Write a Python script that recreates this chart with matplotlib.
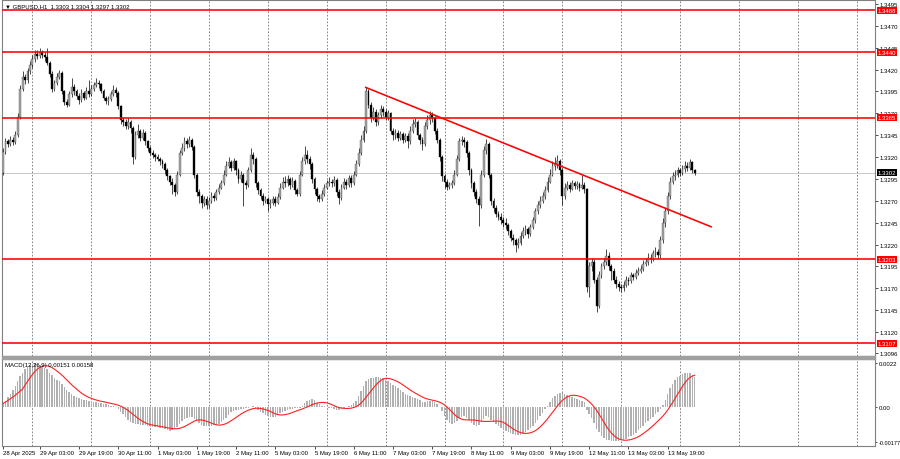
"""
GBPUSD H1 chart with support/resistance levels, trend line and MACD panel,
redrawn in matplotlib in the style of the terminal screenshot.
"""

import numpy as np
import pandas as pd
import matplotlib
matplotlib.use("Agg")
import matplotlib.pyplot as plt
from matplotlib.patches import Rectangle
from matplotlib.transforms import blended_transform_factory

FONT = ["Liberation Sans", "DejaVu Sans"]
plt.rcParams["font.family"] = FONT
FS = 4.3

# ─── Data (prices in pips above 1.3000) ──────────────────────────────────────
TITLE      = "\u25bc GBPUSD,H1  1.3303 1.3304 1.3297 1.3302"
MACD_TITLE = "MACD(12,26,9) 0.00151 0.00158"
FIRST_OPEN = 302

CLOSES = [
    326, 338, 335, 340, 337, 345, 366, 398, 412, 408,
    418, 425, 432, 438, 436, 440, 437, 434, 428, 415,
    398, 405, 412, 416, 395, 383, 380, 392, 400, 395,
    390, 385, 393, 388, 396, 392, 398, 402, 405, 403,
    396, 388, 384, 386, 392, 397, 393, 378, 362, 360,
    355, 360, 353, 320, 345, 350, 342, 348, 338, 330,
    325, 322, 320, 318, 315, 312, 305, 298, 292, 288,
    280, 300, 325, 330, 338, 335, 340, 332, 300, 280,
    275, 268, 272, 265, 270, 276, 273, 280, 285, 290,
    300, 310, 314, 308, 315, 305, 295, 300, 290, 288,
    305, 322, 318, 290, 282, 276, 270, 272, 266, 268,
    272, 268, 274, 285, 292, 290, 295, 288, 293, 282,
    278, 300, 315, 322, 318, 312, 295, 283, 275, 272,
    278, 285, 290, 292, 290, 294, 280, 273, 285, 292,
    288, 296, 290, 300, 312, 325, 340, 350, 395, 380,
    365, 372, 360, 368, 375, 372, 366, 370, 350, 345,
    348, 342, 346, 340, 344, 338, 350, 358, 360, 345,
    340, 335, 355, 362, 368, 365, 350, 340, 320, 298,
    292, 286, 288, 290, 300, 318, 338, 340, 337, 325,
    305, 290, 280, 272, 265, 300, 328, 335, 300, 270,
    262, 255, 252, 248, 245, 242, 235, 228, 225, 220,
    222, 230, 235, 238, 232, 240, 248, 258, 265, 270,
    275, 282, 292, 300, 310, 312, 316, 305, 275, 285,
    288, 284, 290, 287, 289, 285, 288, 283, 172, 195,
    200, 180, 150, 185, 195, 200, 207, 195, 190, 180,
    175, 172, 170, 174, 180, 178, 185, 183, 188, 190,
    192, 198, 200, 205, 203, 210, 212, 208, 225, 245,
    258, 275, 292, 298, 300, 305, 302, 306, 310, 308,
    314, 305, 302,
]

HIGHS = [
    330, 342, 341, 344, 343, 350, 370, 402, 418, 415,
    422, 430, 437, 443, 442, 445, 443, 440, 445, 430,
    418, 408, 416, 420, 418, 397, 386, 396, 410, 403,
    398, 393, 398, 396, 400, 408, 402, 406, 410, 408,
    405, 398, 390, 390, 396, 402, 400, 395, 380, 366,
    363, 365, 362, 356, 350, 358, 352, 352, 350, 340,
    333, 328, 325, 323, 320, 318, 314, 307, 300, 296,
    290, 304, 328, 336, 343, 342, 344, 342, 334, 302,
    283, 278, 276, 275, 274, 280, 279, 284, 289, 294,
    305, 316, 320, 317, 319, 317, 308, 304, 302, 294,
    309, 330, 326, 320, 293, 285, 279, 276, 274, 272,
    276, 275, 279, 290, 297, 298, 299, 297, 297, 295,
    285, 304, 320, 333, 328, 321, 314, 297, 286, 278,
    282, 289, 294, 297, 295, 298, 296, 283, 289, 296,
    295, 300, 299, 304, 317, 330, 345, 356, 400, 398,
    383, 377, 375, 372, 380, 378, 375, 374, 372, 353,
    352, 351, 350, 349, 348, 347, 355, 363, 365, 362,
    348, 343, 360, 368, 373, 372, 367, 353, 342, 322,
    301, 295, 292, 294, 305, 322, 342, 344, 343, 339,
    327, 308, 293, 283, 275, 305, 333, 341, 337, 302,
    273, 265, 258, 256, 252, 250, 245, 238, 232, 228,
    227, 234, 240, 242, 240, 244, 252, 262, 270, 275,
    280, 287, 297, 306, 316, 320, 322, 318, 308, 290,
    293, 291, 294, 293, 293, 292, 300, 291, 285, 200,
    205, 203, 183, 190, 199, 205, 215, 212, 198, 193,
    184, 178, 175, 178, 184, 183, 189, 188, 192, 194,
    197, 202, 205, 210, 209, 214, 217, 215, 230, 250,
    263, 280, 297, 303, 305, 309, 308, 311, 315, 314,
    318, 316, 306,
]

LOWS = [
    300, 324, 332, 333, 334, 335, 343, 364, 395, 404,
    405, 415, 422, 429, 432, 433, 433, 430, 425, 412,
    394, 395, 402, 409, 392, 380, 377, 378, 389, 391,
    386, 381, 383, 385, 386, 389, 390, 396, 400, 399,
    393, 385, 381, 380, 384, 390, 389, 375, 358, 356,
    352, 352, 348, 312, 318, 342, 338, 339, 334, 327,
    322, 319, 316, 315, 311, 308, 301, 294, 288, 278,
    276, 278, 298, 322, 327, 330, 332, 328, 296, 276,
    268, 262, 264, 261, 262, 268, 270, 271, 278, 283,
    288, 298, 307, 304, 305, 300, 290, 292, 264, 284,
    286, 303, 312, 286, 278, 272, 265, 267, 258, 262,
    265, 264, 266, 272, 283, 286, 287, 284, 286, 278,
    275, 276, 298, 312, 313, 306, 290, 278, 270, 269,
    270, 276, 283, 287, 286, 287, 276, 266, 271, 283,
    284, 286, 286, 288, 298, 310, 322, 337, 348, 376,
    360, 362, 356, 357, 365, 367, 362, 362, 346, 340,
    341, 338, 339, 336, 337, 330, 335, 347, 354, 341,
    335, 328, 333, 352, 358, 360, 346, 336, 315, 293,
    285, 282, 283, 285, 288, 298, 315, 334, 332, 320,
    300, 285, 275, 267, 241, 262, 297, 324, 296, 265,
    257, 251, 248, 244, 240, 238, 231, 224, 220, 211,
    216, 219, 227, 231, 228, 230, 238, 245, 255, 262,
    267, 272, 280, 290, 298, 305, 308, 300, 265, 272,
    282, 280, 282, 283, 284, 281, 283, 279, 166, 160,
    190, 176, 143, 148, 182, 192, 197, 191, 180, 176,
    170, 167, 166, 167, 171, 174, 176, 179, 181, 185,
    187, 190, 195, 197, 199, 201, 206, 203, 205, 222,
    240, 255, 272, 289, 294, 297, 298, 299, 303, 304,
    305, 302, 300,
]

# MACD main line, in units of 1e-5
MACD_MAIN = [
    17, 30, 48, 65, 82, 105, 130, 155, 172, 188,
    200, 210, 217, 218, 214, 208, 202, 195, 188, 170,
    158, 145, 136, 127, 112, 98, 84, 74, 63, 55,
    50, 44, 40, 36, 33, 30, 27, 24, 22, 20,
    18, 15, 12, 9, 6, 3, 0, -12, -24, -35,
    -50, -64, -76, -83, -85, -88, -90, -92, -94, -97,
    -99, -100, -102, -104, -106, -108, -112, -117, -120, -116,
    -110, -100, -85, -72, -62, -56, -52, -50, -60, -72,
    -83, -90, -95, -97, -97, -96, -94, -92, -85, -76,
    -67, -55, -40, -28, -22, -17, -14, -12, -10, -8,
    -4, 0, 3, -5, -15, -25, -33, -40, -47, -50,
    -51, -50, -42, -32, -25, -20, -16, -13, -10, -8,
    -7, -5, 5, 18, 28, 36, 40, 32, 20, 12,
    6, 2, 0, -4, -8, -12, -15, -15, -12, -8,
    -3, 2, 10, 18, 30, 55, 80, 105, 130, 140,
    145, 147, 148, 148, 147, 143, 137, 128, 119, 110,
    102, 93, 85, 75, 65, 58, 53, 48, 45, 38,
    32, 26, 25, 27, 30, 30, 24, 14, 0, -22,
    -45, -65, -80, -85, -82, -72, -58, -50, -45, -55,
    -68, -80, -90, -95, -92, -75, -60, -48, -50, -65,
    -75, -87, -98, -108, -116, -122, -128, -133, -137, -140,
    -142, -140, -135, -127, -117, -106, -95, -80, -64, -46,
    -30, -12, 5, 25, 42, 55, 63, 68, 70, 62,
    57, 52, 48, 44, 40, 36, 31, 26, -15, -35,
    -55, -80, -110, -128, -145, -157, -165, -169, -171, -172,
    -172, -171, -168, -165, -160, -154, -147, -140, -130, -118,
    -106, -95, -83, -72, -60, -50, -38, -25, -10, 10,
    35, 65, 95, 115, 133, 148, 157, 164, 169, 172,
    170, 162, 151,
]

LEVELS      = [1.3488, 1.3440, 1.3365, 1.3203, 1.3107]
LAST_PRICE  = 1.3302
TREND_BARS  = [147.6, 289.0]
TREND_PRICE = [1.3400, 1.3240]

PRICE_TICKS = [1.3495, 1.3470, 1.3445, 1.3420, 1.3395, 1.3370, 1.3345, 1.3320,
               1.3295, 1.3270, 1.3245, 1.3220, 1.3195, 1.3170, 1.3145, 1.3120, 1.3096]
MACD_TICKS  = [0.0022, 0.0, -0.00177]
MACD_TICK_LABELS = ["0.0022", "0.00", "-0.00177"]

X_LABELS = ["28 Apr 2025", "29 Apr 03:00", "29 Apr 19:00", "30 Apr 11:00", "1 May 03:00",
            "1 May 19:00", "2 May 11:00", "5 May 03:00", "5 May 19:00", "6 May 11:00",
            "7 May 03:00", "7 May 19:00", "8 May 11:00", "9 May 03:00", "9 May 19:00",
            "12 May 11:00", "13 May 03:00", "13 May 19:00"]
X_LABEL_BARS = [0, 15, 31, 47, 63, 79, 95, 111, 127, 143, 159, 175, 191, 207, 223, 239, 255, 271]
GRID_BARS = list(range(12, 356, 24))   # midnight of each trading day

XLIM = (-0.4, 355.5)


def to_price(pips):
    return 1.3 + np.asarray(pips, dtype=float) / 10000.0


def build_frame():
    n = len(CLOSES)
    assert len(HIGHS) == n and len(LOWS) == n and len(MACD_MAIN) == n
    df = pd.DataFrame({
        "open":  to_price([FIRST_OPEN] + CLOSES[:-1]),
        "high":  to_price(HIGHS),
        "low":   to_price(LOWS),
        "close": to_price(CLOSES),
        "macd":  np.asarray(MACD_MAIN, dtype=float) / 1e5,
    })
    df["signal"] = df["macd"].rolling(9, min_periods=1).mean()
    return df


def draw_price(ax, df):
    idx = np.arange(len(df))
    bull = df["close"] >= df["open"]
    body_lo = np.minimum(df["open"], df["close"])
    body_h = np.maximum((df["close"] - df["open"]).abs(), 0.00004)

    ax.vlines(idx, df["low"], df["high"], color="black", lw=0.5, zorder=3)
    ax.bar(idx[bull], body_h[bull], bottom=body_lo[bull], width=0.75,
           color="#a8a8a8", edgecolor="#404040", linewidth=0.25, zorder=4)
    ax.bar(idx[~bull], body_h[~bull], bottom=body_lo[~bull], width=0.75,
           color="black", edgecolor="black", linewidth=0.25, zorder=4)

    for g in GRID_BARS:
        ax.axvline(g, color="#707070", lw=0.6, ls=(0, (2, 2)), zorder=1)

    ax.axhline(LAST_PRICE, color="#c8c8c8", lw=0.7, zorder=2)
    for lvl in LEVELS:
        ax.axhline(lvl, color="#ff0000", lw=1.15, zorder=5)
    ax.plot(TREND_BARS, TREND_PRICE, color="#ff0000", lw=1.15, zorder=6,
            solid_capstyle="butt")

    ax.set_xlim(*XLIM)
    ax.set_ylim(1.30926, 1.34996)
    ax.yaxis.tick_right()
    ax.set_yticks(PRICE_TICKS)
    ax.set_yticklabels([f"{t:.4f}" for t in PRICE_TICKS])
    ax.tick_params(axis="y", length=2, width=0.5, pad=1.5, labelsize=FS)
    ax.set_xticks([])

    tr = blended_transform_factory(ax.transAxes, ax.transData)
    for lvl in LEVELS:
        ax.text(1.003, lvl, f"{lvl:.4f}", transform=tr, ha="left", va="center",
                fontsize=FS, color="white", clip_on=False, zorder=10,
                bbox=dict(boxstyle="square,pad=0.18", fc="#ff0000", ec="none"))
    ax.text(1.003, LAST_PRICE, f"{LAST_PRICE:.4f}", transform=tr, ha="left",
            va="center", fontsize=FS, color="white", clip_on=False, zorder=10,
            bbox=dict(boxstyle="square,pad=0.18", fc="black", ec="none"))

    ax.text(0.004, 0.992, TITLE, transform=ax.transAxes, ha="left", va="top",
            fontsize=FS, color="black", zorder=11)


def draw_macd(ax, df):
    idx = np.arange(len(df))
    for g in GRID_BARS:
        ax.axvline(g, color="#707070", lw=0.6, ls=(0, (2, 2)), zorder=1)
    ax.bar(idx, df["macd"], width=0.6, color="#b0b0b0", linewidth=0, zorder=2)
    ax.plot(idx, df["signal"], color="#ff2020", lw=0.8, zorder=3)

    ax.set_xlim(*XLIM)
    ax.set_ylim(-0.00197, 0.0024)
    ax.yaxis.tick_right()
    ax.set_yticks(MACD_TICKS)
    ax.set_yticklabels(MACD_TICK_LABELS)
    ax.tick_params(axis="y", length=1.5, width=0.5, pad=1.0, labelsize=FS)
    ax.get_yticklabels()[-1].set_fontsize(4.0)

    ax.set_xticks(X_LABEL_BARS)
    ax.set_xticklabels(X_LABELS)
    for lab in ax.get_xticklabels():
        lab.set_horizontalalignment("left")
    ax.tick_params(axis="x", length=2, width=0.5, pad=1.0, labelsize=FS)

    ax.text(0.004, 0.96, MACD_TITLE, transform=ax.transAxes, ha="left", va="top",
            fontsize=FS, color="black", zorder=11)


def main():
    df = build_frame()

    fig = plt.figure(figsize=(9, 4.6), dpi=100)
    W, H = 900.0, 460.0
    ax_price = fig.add_axes([2 / W, 1 - 357 / H, 873 / W, 356 / H])
    ax_macd  = fig.add_axes([2 / W, 1 - 447 / H, 873 / W, 87 / H])

    for a in (ax_price, ax_macd):
        for sp in a.spines.values():
            sp.set_color("#808080")
            sp.set_linewidth(0.8)

    # gray separator between the two panes
    fig.patches.append(Rectangle((2 / W, 1 - 360 / H), 873 / W, 3 / H,
                                 transform=fig.transFigure, color="#a0a0a0", zorder=0))

    draw_price(ax_price, df)
    draw_macd(ax_macd, df)

    fig.savefig("out.png", dpi=100)
    plt.close(fig)


if __name__ == "__main__":
    main()
